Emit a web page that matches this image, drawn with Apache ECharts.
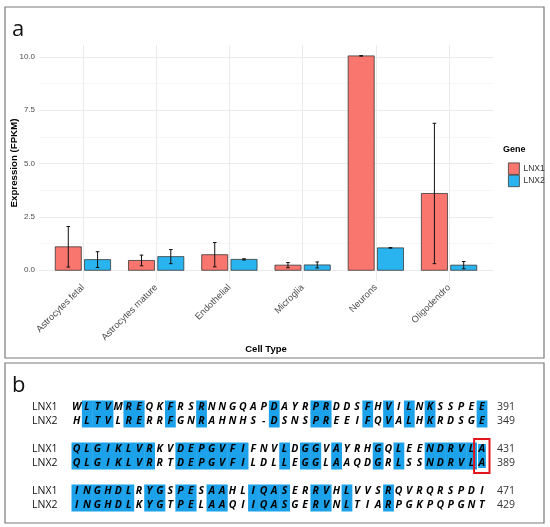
<!DOCTYPE html>
<html>
<head>
<meta charset="utf-8">
<script src="https://cdn.jsdelivr.net/npm/echarts@6/dist/echarts.min.js"></script>
<style>
html, body { margin: 0; padding: 0; background: #fff; }
#main { width: 550px; height: 527px; }
</style>
</head>
<body>
<div id="main"></div>
<script>
// panel a: expression per cell type
var cellTypes = ['Astrocytes fetal', 'Astrocytes mature', 'Endothelial', 'Microglia', 'Neurons', 'Oligodendro'];
var lnx1Mean = [1.10, 0.46, 0.73, 0.24, 10.05, 3.60];
var lnx1Sd = [0.95, 0.25, 0.57, 0.12, 0.01, 3.29];
var lnx2Mean = [0.50, 0.64, 0.51, 0.25, 1.05, 0.24];
var lnx2Sd = [0.37, 0.33, 0.03, 0.14, 0.01, 0.17];
var yTicks = [0, 2.5, 5, 7.5, 10];
var yMinor = [1.25, 3.75, 6.25, 8.75];
var xTicks = [0, 1, 2, 3, 4, 5];

// panel b: alignment blocks
var lnx1Seq = ['WLTVMREQKFRSRNNGQAPDAYRPRDDSFHVILNKSSPEE',
               'QLGIKLVRKVDEPGVFIFNVLDGGVAYRHGQLEENDRVLA',
               'INGHDLRYGSPESAAHLIQASERRVHLVVSRQVRQRSPDI'];
var lnx2Seq = ['HLTVLRERRFGNRAHNHS-DSNSPREEIFQVALHKRDSGE',
               'QLGIKLVRRTDEPGVFILDLLEGGLAAQDGRLSSNDRVLA',
               'INGHDLKYGTPELAAQIIQASGERVNLTIARPGKPQPGNT'];
var lnx1End = ['391', '431', '471'];
var lnx2End = ['349', '389', '429'];
var boxedBlock = 1, boxedPos = 40;

var red = '#F8766D', blue = '#29B4F0', hl = '#1CA2EA';

var chart = echarts.init(document.getElementById('main'));

function barItem(offset, color) {
	return function (params, api) {
		var x = api.value(0) + offset, m = api.value(1), s = api.value(2);
		var p0 = api.coord([x - 0.178, m]);
		var p1 = api.coord([x + 0.178, 0]);
		var hi = api.coord([x, m + s]);
		var lo = api.coord([x, m - s]);
		var cap = 1.8;
		return {
			type: 'group',
			children: [
				{ type: 'rect', shape: { x: p0[0], y: p0[1], width: p1[0] - p0[0], height: p1[1] - p0[1] },
				  style: { fill: color, stroke: '#3a3a3a', lineWidth: 0.8 } },
				{ type: 'line', shape: { x1: hi[0], y1: hi[1], x2: lo[0], y2: lo[1] }, style: { stroke: '#111', lineWidth: 1 } },
				{ type: 'line', shape: { x1: hi[0] - cap, y1: hi[1], x2: hi[0] + cap, y2: hi[1] }, style: { stroke: '#111', lineWidth: 1 } },
				{ type: 'line', shape: { x1: lo[0] - cap, y1: lo[1], x2: lo[0] + cap, y2: lo[1] }, style: { stroke: '#111', lineWidth: 1 } }
			]
		};
	};
}

// rows of the alignment grid: block b -> rows 3b, 3b+1
var rowNames = [], rowEnds = [];
for (var b = 0; b < lnx1Seq.length; b++) {
	rowNames.push('LNX1', 'LNX2');
	rowEnds.push(lnx1End[b], lnx2End[b]);
	if (b < lnx1Seq.length - 1) { rowNames.push(''); rowEnds.push(''); }
}

var residues = [], identical = [];
for (var b = 0; b < lnx1Seq.length; b++) {
	for (var i = 0; i < lnx1Seq[b].length; i++) {
		residues.push({ pos: i + 1, row: b * 3, ch: lnx1Seq[b][i] });
		residues.push({ pos: i + 1, row: b * 3 + 1, ch: lnx2Seq[b][i] });
		if (lnx1Seq[b][i] === lnx2Seq[b][i]) {
			identical.push([i + 1, b * 3, (b === boxedBlock && i + 1 === boxedPos) ? 1 : 0]);
		}
	}
}

var option = {
	backgroundColor: '#fff',
	animation: false,
	textStyle: { fontFamily: 'Liberation Sans' },
	legend: {
		orient: 'vertical',
		left: 503,
		top: 157.5,
		itemWidth: 11,
		itemHeight: 11.5,
		itemGap: 0,
		icon: 'rect',
		selectedMode: false,
		textStyle: { fontSize: 8.5, color: '#333', padding: [0, 0, 0, -1] },
		data: [
			{ name: 'LNX1', itemStyle: { color: red, borderColor: '#3a3a3a', borderWidth: 0.8 } },
			{ name: 'LNX2', itemStyle: { color: blue, borderColor: '#3a3a3a', borderWidth: 0.8 } }
		]
	},
	grid: [
		{ left: 39, right: 57, top: 45, bottom: 246, outerBoundsMode: 'none', containLabel: false },
		{ left: 71.5, right: 63, top: 400, height: 112, outerBoundsMode: 'none', containLabel: false }
	],
	xAxis: [
		{
			type: 'value', gridIndex: 0, min: -0.6, max: 5.6,
			name: 'Cell Type', nameLocation: 'middle', nameGap: 63, nameMoveOverlap: false,
			nameTextStyle: { fontSize: 9.5, fontWeight: 'bold', color: '#000' },
			axisLine: { show: false },
			axisTick: { show: false, customValues: xTicks },
			axisLabel: {
				customValues: xTicks, rotate: 45, margin: 5, fontSize: 9.3, color: '#4D4D4D',
				formatter: function (v) { return cellTypes[Math.round(v)]; }
			},
			splitLine: { show: true, lineStyle: { color: '#E9E9E9', width: 0.9 } }
		},
		{ type: 'value', gridIndex: 1, min: 0.5, max: 40.5, show: false }
	],
	yAxis: [
		{
			type: 'value', gridIndex: 0, min: -0.503, max: 10.56,
			name: 'Expression (FPKM)', nameLocation: 'middle', nameGap: 20, nameMoveOverlap: false,
			nameTextStyle: { fontSize: 9.7, fontWeight: 'bold', color: '#000' },
			axisLine: { show: false },
			axisTick: { show: false, customValues: yTicks },
			axisLabel: {
				customValues: yTicks, margin: 4, fontSize: 8, color: '#4D4D4D',
				formatter: function (v) { return v.toFixed(1); }
			},
			splitLine: { show: true, lineStyle: { color: '#E9E9E9', width: 0.9 } }
		},
		{
			type: 'value', gridIndex: 0, min: -0.503, max: 10.56,
			axisLine: { show: false },
			axisTick: { show: false, customValues: yMinor },
			axisLabel: { show: false },
			splitLine: { show: true, lineStyle: { color: '#F3F3F3', width: 0.7 } }
		},
		{
			type: 'category', gridIndex: 1, data: rowNames, inverse: true,
			axisLine: { show: false }, axisTick: { show: false }, splitLine: { show: false },
			axisLabel: { interval: 0, margin: 14, fontSize: 10.5, color: '#111', fontFamily: 'Open Sans' }
		},
		{
			type: 'category', gridIndex: 1, data: rowEnds, inverse: true, position: 'right',
			axisLine: { show: false }, axisTick: { show: false }, splitLine: { show: false },
			axisLabel: { interval: 0, margin: 10, fontSize: 10.5, color: '#333', fontFamily: 'Open Sans' }
		}
	],
	graphic: [
		{ type: 'rect', shape: { x: 5, y: 7, width: 539, height: 351 }, style: { fill: 'none', stroke: '#7a7a7a', lineWidth: 1.2 } },
		{ type: 'rect', shape: { x: 5, y: 363, width: 539, height: 160 }, style: { fill: 'none', stroke: '#7a7a7a', lineWidth: 1.2 } },
		{ type: 'text', x: 12, y: 30, style: { text: 'a', font: '22px "Open Sans"', fill: '#111', verticalAlign: 'middle' } },
		{ type: 'text', x: 12, y: 385.5, style: { text: 'b', font: '22px "Open Sans"', fill: '#111', verticalAlign: 'middle' } },
		{ type: 'text', x: 503, y: 150, style: { text: 'Gene', font: 'bold 9px "Liberation Sans"', fill: '#000', verticalAlign: 'middle' } }
	],
	series: [
		{
			name: 'LNX1', type: 'custom', xAxisIndex: 0, yAxisIndex: 0,
			itemStyle: { color: red },
			renderItem: barItem(-0.2, red),
			data: cellTypes.map(function (c, i) { return [i, lnx1Mean[i], lnx1Sd[i]]; })
		},
		{
			name: 'LNX2', type: 'custom', xAxisIndex: 0, yAxisIndex: 0,
			itemStyle: { color: blue },
			renderItem: barItem(0.2, blue),
			data: cellTypes.map(function (c, i) { return [i, lnx2Mean[i], lnx2Sd[i]]; })
		},
		{
			// identical residues shaded across both rows
			type: 'custom', xAxisIndex: 1, yAxisIndex: 2, silent: true, z: 1,
			renderItem: function (params, api) {
				var c = api.coord([api.value(0), api.value(1)]);
				var sz = api.size([1, 1]);
				var inset = api.value(2) ? 1.5 : 0;
				return {
					type: 'rect',
					shape: { x: c[0] - sz[0] / 2 + inset, y: c[1] - sz[1] / 2 + 0.5 + inset,
					         width: sz[0] + 0.4 - 2 * inset, height: sz[1] * 2 - 1 - 2 * inset },
					style: { fill: hl }
				};
			},
			data: identical
		},
		{
			type: 'custom', xAxisIndex: 1, yAxisIndex: 2, silent: true, z: 2,
			renderItem: function (params, api) {
				var c = api.coord([api.value(0), api.value(1)]);
				return {
					type: 'text', x: c[0], y: c[1],
					style: { text: residues[params.dataIndex].ch, font: 'italic bold 10.5px "Open Sans"',
					         fill: '#000', align: 'center', verticalAlign: 'middle' }
				};
			},
			data: residues.map(function (r) { return [r.pos, r.row]; })
		},
		{
			type: 'custom', xAxisIndex: 1, yAxisIndex: 2, silent: true, z: 3,
			renderItem: function (params, api) {
				var c = api.coord([api.value(0), api.value(1)]);
				var sz = api.size([1, 1]);
				return {
					type: 'rect',
					shape: { x: c[0] - sz[0] / 2 - 2.5, y: c[1] - sz[1] / 2 - 3, width: sz[0] + 5, height: sz[1] * 2 + 6 },
					style: { fill: 'none', stroke: '#E3161B', lineWidth: 2 }
				};
			},
			data: [[boxedPos, boxedBlock * 3]]
		}
	]
};

chart.setOption(option);
</script>
</body>
</html>
